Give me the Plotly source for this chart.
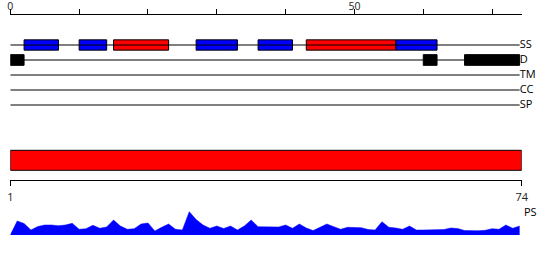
import plotly.graph_objects as go

W, H = 550, 260

# ---- data ----
track_names = ["SS", "D", "TM", "CC", "SP"]
seq_length = 74

ss_helix = [(15, 23), (43, 56)]            # red boxes
ss_strand = [(2, 7), (10, 14), (27, 33), (36, 41), (56, 62)]  # blue boxes
disorder = [(0, 2), (60, 62), (66, 74)]    # black boxes

domain_bar = (1, 74)                       # red bar under tracks
bottom_ticks = [1, 74]
bottom_tick_labels = ["1", "74"]

top_ticks = [0, 10, 20, 30, 40, 50, 60, 70]
top_tick_labels = ["0", "", "", "", "", "50", "", ""]

ps_pos = list(range(0, 75))
ps_vals = [0, 14, 11.5, 5, 8.5, 10, 10, 9.3, 10, 11.7,
           5.7, 6.3, 9.7, 6.7, 8, 15, 9, 5.7, 6.3, 11,
           12, 4, 7.7, 11, 5.7, 5, 23.3, 15.5, 10, 6.7,
           9, 6.5, 9, 5, 9, 15, 8.3, 8.3, 8.3, 8,
           10, 6.7, 11, 7, 4.4, 7.5, 11, 8.3, 5.7, 7.7,
           7.5, 7.3, 5.5, 5, 13.3, 7.7, 7, 5.7, 9, 5,
           5, 5, 5, 5.5, 7, 6.5, 4.5, 4.3, 4.3, 4.7,
           6.3, 5.7, 10, 6.7, 9]

# ---- layout helpers (pixel geometry) ----
FONT = "Open Sans"
track_y0, track_dy = 45, 15
track_ys = [track_y0 + i * track_dy for i in range(len(track_names))]
top_axis_px = 14.7
bottom_axis_px = 180.3
x_left_px = 10.3
x_right_top_px = 521.7
x_right_bot_px = 520.7
ps_base_px = 235.0
ps_top_px = 210.0

fig = go.Figure()

# track lines
for ty in track_ys:
    fig.add_trace(go.Scatter(x=[0, seq_length], y=[ty, ty], mode="lines",
                             line=dict(color="black", width=1),
                             hoverinfo="skip", showlegend=False))

def add_boxes(feats, ty, color, width):
    fig.add_trace(go.Bar(
        orientation="h",
        y=[ty] * len(feats),
        base=[s for s, e in feats],
        x=[e - s for s, e in feats],
        width=width,
        marker=dict(color=color, line=dict(color="black", width=1)),
        showlegend=False, hoverinfo="skip"))

add_boxes(ss_strand, track_ys[0], "#0000ff", 10.3)
add_boxes(ss_helix, track_ys[0], "#ff0000", 10.3)
add_boxes(disorder, track_ys[1], "#000000", 10.7)

# track labels
fig.add_trace(go.Scatter(x=[seq_length] * len(track_names), y=track_ys,
                         mode="text", text=track_names,
                         textposition="middle right",
                         textfont=dict(family=FONT, size=11, color="black"),
                         cliponaxis=False, showlegend=False, hoverinfo="skip"))

# red domain bar (bottom scale)
fig.add_trace(go.Bar(orientation="h", y=[160.3], base=[domain_bar[0]],
                     x=[domain_bar[1] - domain_bar[0]], width=20,
                     marker=dict(color="#ff0000", line=dict(color="black", width=1)),
                     xaxis="x2", yaxis="y", showlegend=False, hoverinfo="skip"))

# PS area
fig.add_trace(go.Scatter(x=ps_pos, y=ps_vals, mode="lines", fill="tozeroy",
                         fillcolor="#0000ff", line=dict(color="#0000ff", width=0.5),
                         xaxis="x", yaxis="y3", showlegend=False, hoverinfo="skip"))

fig.add_annotation(text="PS", xref="paper", yref="paper",
                   x=521.5 / W, y=1 - 211 / H, xanchor="left", yanchor="middle",
                   showarrow=False, font=dict(family=FONT, size=11, color="black"))

top_dom = [x_left_px / W, x_right_top_px / W]
fig.update_layout(
    width=W, height=H, margin=dict(l=0, r=0, t=0, b=0, autoexpand=False),
    paper_bgcolor="white", plot_bgcolor="rgba(0,0,0,0)",
    barmode="overlay", showlegend=False,
    font=dict(family=FONT, size=11, color="#222"),
    xaxis=dict(domain=top_dom, range=[0, 74.3], side="top", anchor="y",
               showline=True, linecolor="black", linewidth=1,
               ticks="outside", ticklen=5, tickcolor="black", tickwidth=1,
               tickvals=top_ticks, ticktext=top_tick_labels,
               ticklabelstandoff=-5,
               tickfont=dict(family=FONT, size=10.5, color="#222"),
               showgrid=False, zeroline=False, fixedrange=True, automargin=False),
    yaxis=dict(domain=[0, 1 - top_axis_px / H], range=[H, top_axis_px],
               visible=False, fixedrange=True, automargin=False),
    xaxis2=dict(domain=[x_left_px / W, x_right_bot_px / W], range=[1, 74],
                anchor="free", position=1 - bottom_axis_px / H, side="bottom",
                overlaying="x",
                showline=True, linecolor="black", linewidth=1,
                ticks="outside", ticklen=5, tickcolor="black", tickwidth=1,
                tickvals=bottom_ticks, ticktext=bottom_tick_labels,
                ticklabelstandoff=1,
                tickfont=dict(family=FONT, size=11, color="#222"),
                showgrid=False, zeroline=False, fixedrange=True, automargin=False),
    yaxis3=dict(domain=[1 - ps_base_px / H, 1 - ps_top_px / H], range=[0, 25],
                visible=False, fixedrange=True, automargin=False),
    xaxis3=dict(domain=[x_left_px / W, 1], range=[0, 1], anchor="y3",
                showline=True, linecolor="#0000ff", linewidth=1,
                showticklabels=False, ticks="", showgrid=False, zeroline=False,
                fixedrange=True, automargin=False),
)

fig.write_html("out.html")
